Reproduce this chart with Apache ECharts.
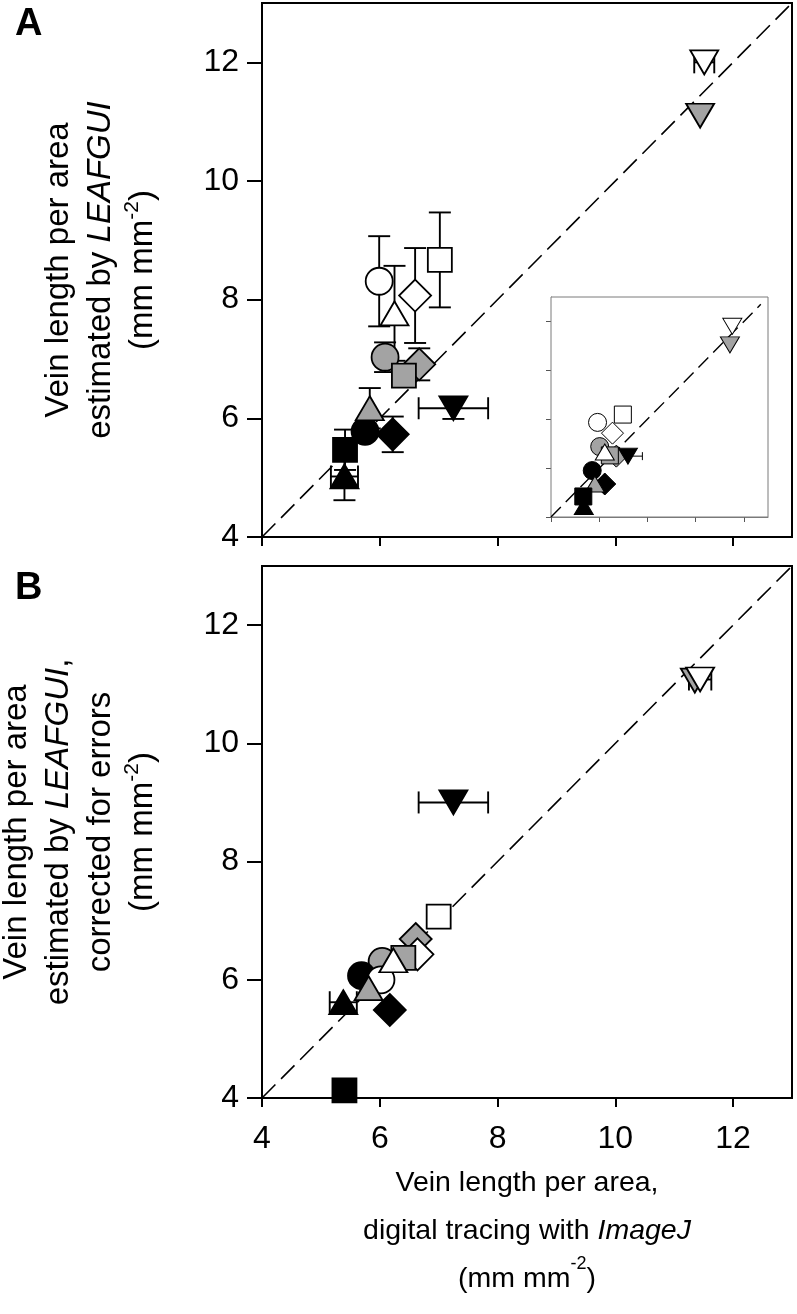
<!DOCTYPE html>
<html><head><meta charset="utf-8">
<script src="https://cdn.jsdelivr.net/npm/echarts@6/dist/echarts.min.js"></script>
<style>html,body{margin:0;padding:0;background:#fff}#c{width:797px;height:1314px}</style>
</head><body><div id="c"></div>
<script>
// ---- data ----
const groups = ['open circle','open triangle up','open diamond','open square','open triangle down',
  'grey circle','grey triangle up','grey diamond','grey square','grey triangle down',
  'black circle','black triangle up','black diamond','black square','black triangle down'];
const ticks = [4, 6, 8, 10, 12];
const identity = [[4, 4], [13, 13]];
const identityInset = [[4, 4], [12.7, 12.7]];

// Panel A: ImageJ (x) vs LEAFGUI (y)
const aX    = [5.99, 6.25, 6.60, 7.02, 11.51, 6.09, 5.83, 6.67, 6.41, 11.44, 5.75, 5.40, 6.22, 5.41, 7.25];
const aY    = [8.31, 7.77, 8.07, 8.67, 12.00, 7.03, 6.17, 6.91, 6.72, 11.10, 5.78, 5.02, 5.73, 5.47, 6.17];
const aXErr = [0, 0, 0, 0, 0.17, 0, 0, 0, 0, 0, 0, 0.23, 0, 0, 0.59];
const aYErr = [0.76, 0.80, 0.80, 0.80, 0, 0.25, 0.34, 0.27, 0.15, 0, 0, 0.40, 0.30, 0.34, 0.18];

// Panel A inset
const iX    = [5.93, 6.23, 6.55, 6.98, 11.52, 6.02, 5.82, 6.71, 6.44, 11.42, 5.71, 5.36, 6.23, 5.34, 7.19];
const iY    = [7.87, 6.66, 7.43, 8.19, 11.80, 6.88, 5.35, 6.49, 6.52, 11.04, 5.90, 4.43, 5.35, 4.84, 6.49];
const iXErr = [0, 0, 0, 0, 0, 0, 0, 0, 0, 0, 0, 0, 0, 0, 0.60];
const iYErr = [0, 0, 0, 0, 0, 0, 0, 0, 0, 0, 0, 0, 0, 0, 0];

// Panel B: ImageJ (x) vs LEAFGUI corrected (y)
const bX    = [6.02, 6.23, 6.64, 7.00, 11.44, 6.04, 5.81, 6.61, 6.40, 11.35, 5.69, 5.38, 6.17, 5.40, 7.25];
const bY    = [6.00, 6.33, 6.43, 7.07, 11.08, 6.31, 5.86, 6.69, 6.37, 11.06, 6.07, 5.62, 5.49, 4.13, 9.00];
const bXErr = [0, 0, 0, 0, 0.19, 0, 0, 0, 0, 0, 0, 0.23, 0, 0, 0.59];
const bYErr = [0, 0, 0, 0, 0, 0, 0, 0, 0, 0, 0, 0, 0, 0, 0];

// ---- styles ----
const GREY = '#a3a3a3';
const shapeOf = ['circle','triangle','diamond','rect','triangle','circle','triangle','diamond','rect','triangle','circle','triangle','diamond','rect','triangle'];
const fillOf  = ['#fff','#fff','#fff','#fff','#fff',GREY,GREY,GREY,GREY,GREY,'#000','#000','#000','#000','#000'];
const rotOf   = [0,0,0,0,180,0,0,0,0,180,0,0,0,0,180];
const sizeMain = {circle: 27, triangle: [28, 24], diamond: [32, 32], rect: 24};
const sizeInset = {circle: 18, triangle: [19, 16], diamond: [22, 22], rect: 17};
const orderA = [0, 2, 3, 1, 7, 5, 8, 10, 6, 12, 11, 13, 14, 9, 4];
const orderI = [3, 0, 2, 5, 7, 8, 1, 14, 10, 12, 6, 11, 13, 9, 4];
const orderB = [7, 2, 5, 8, 3, 10, 0, 1, 6, 11, 12, 13, 14, 9, 4];

const FONT = "'Liberation Sans', Arial, Helvetica, sans-serif";

function points(xs, ys, order, sizes, lw) {
  return order.map(i => ({
    name: groups[i],
    value: [xs[i], ys[i]],
    symbol: shapeOf[i],
    symbolSize: sizes[shapeOf[i]],
    symbolRotate: rotOf[i],
    itemStyle: {color: fillOf[i], borderColor: '#000', borderWidth: lw, opacity: 1}
  }));
}
function errData(xs, ys, xe, ye) {
  return xs.map((x, i) => [x, ys[i], xe[i], ye[i]]).filter(d => d[2] > 0 || d[3] > 0);
}
function errRender(cap, lw) {
  return function (params, api) {
    const x = api.value(0), y = api.value(1), xe = api.value(2), ye = api.value(3);
    const st = {stroke: '#000', lineWidth: lw};
    const ch = [];
    const L = (x1, y1, x2, y2) => ch.push({type: 'line', shape: {x1, y1, x2, y2}, style: st});
    if (ye > 0) {
      const p1 = api.coord([x, y + ye]), p2 = api.coord([x, y - ye]);
      L(p1[0], p1[1], p2[0], p2[1]);
      L(p1[0] - cap, p1[1], p1[0] + cap, p1[1]);
      L(p2[0] - cap, p2[1], p2[0] + cap, p2[1]);
    }
    if (xe > 0) {
      const p1 = api.coord([x - xe, y]), p2 = api.coord([x + xe, y]);
      L(p1[0], p1[1], p2[0], p2[1]);
      L(p1[0], p1[1] - cap, p1[0], p1[1] + cap);
      L(p2[0], p2[1] - cap, p2[0], p2[1] + cap);
    }
    return {type: 'group', children: ch};
  };
}

function richName(fs, lh) {
  return {
    n: {fontSize: fs, fontFamily: FONT, color: '#000', lineHeight: lh},
    i: {fontSize: fs, fontFamily: FONT, color: '#000', fontStyle: 'italic', lineHeight: lh},
    s: {fontSize: Math.round(fs * 0.64), fontFamily: FONT, color: '#000', verticalAlign: 'top', lineHeight: Math.round(lh * 0.55)}
  };
}

function mainX(grid, showLabels, name) {
  return {
    type: 'value', gridIndex: grid, min: 4, max: 13, interval: 2,
    axisLine: {show: true, onZero: false, lineStyle: {color: '#000', width: 2}},
    axisTick: {show: true, inside: false, length: 9, customValues: ticks, lineStyle: {color: '#000', width: 2}},
    axisLabel: {show: showLabels, customValues: ticks, margin: 25, fontSize: 32, fontFamily: FONT, color: '#000'},
    splitLine: {show: false},
    name: name || '', nameLocation: 'middle', nameGap: 61, nameMoveOverlap: false,
    nameTextStyle: {rich: richName(28.5, 48), fontSize: 28.5, fontFamily: FONT, color: '#000', lineHeight: 48}
  };
}
function mainY(grid, name) {
  return {
    type: 'value', gridIndex: grid, min: 4, max: 13, interval: 2,
    axisLine: {show: true, onZero: false, lineStyle: {color: '#000', width: 2}},
    axisTick: {show: true, inside: false, length: 15, customValues: ticks, lineStyle: {color: '#000', width: 2}},
    axisLabel: {show: true, customValues: ticks, margin: 23, fontSize: 32, fontFamily: FONT, color: '#000'},
    splitLine: {show: false},
    name: name, nameLocation: 'middle', nameRotate: 90, nameGap: 98, nameMoveOverlap: false,
    nameTextStyle: {rich: richName(33, 42), fontSize: 33, fontFamily: FONT, color: '#000', lineHeight: 42}
  };
}
function insetAxis(grid) {
  return {
    type: 'value', gridIndex: grid, min: 4, max: 13, interval: 2,
    axisLine: {show: true, onZero: false, lineStyle: {color: '#7a7a7a', width: 1}},
    axisTick: {show: true, inside: false, length: 5, customValues: ticks, lineStyle: {color: '#555', width: 1}},
    axisLabel: {show: false}, splitLine: {show: false}
  };
}

const option = {
  animation: false,
  backgroundColor: '#fff',
  title: [
    {text: 'A', left: 10, top: 1, textStyle: {fontSize: 38, fontWeight: 'bold', fontFamily: FONT, color: '#000'}},
    {text: 'B', left: 10, top: 565, textStyle: {fontSize: 38, fontWeight: 'bold', fontFamily: FONT, color: '#000'}}
  ],
  grid: [
    {left: 262, top: 3, width: 530, height: 534, show: true, borderColor: '#000', borderWidth: 2, outerBoundsMode: 'none'},
    {left: 262, top: 566, width: 530, height: 532, show: true, borderColor: '#000', borderWidth: 2, outerBoundsMode: 'none'},
    {left: 551, top: 297, width: 217, height: 220, show: true, borderColor: '#7a7a7a', borderWidth: 1, backgroundColor: '#fff', outerBoundsMode: 'none', z: 3}
  ],
  xAxis: [
    mainX(0, false),
    mainX(1, true, '{n|Vein length per area,}\n{n|digital tracing with }{i|ImageJ}\n{n|(mm mm}{s|-2}{n|)}'),
    insetAxis(2)
  ],
  yAxis: [
    mainY(0, '{n|Vein length per area}\n{n|estimated by }{i|LEAFGUI}\n{n|(mm mm}{s|-2}{n|)}'),
    mainY(1, '{n|Vein length per area}\n{n|estimated by }{i|LEAFGUI}{n|,}\n{n|corrected for errors}\n{n|(mm mm}{s|-2}{n|)}'),
    insetAxis(2)
  ],
  series: [
    {type: 'line', xAxisIndex: 0, yAxisIndex: 0, data: identity, symbol: 'none', silent: true,
      lineStyle: {color: '#000', width: 1.6, type: [19, 8]}, z: 1},
    {type: 'line', xAxisIndex: 1, yAxisIndex: 1, data: identity, symbol: 'none', silent: true,
      lineStyle: {color: '#000', width: 1.6, type: [19, 8]}, z: 1},
    {type: 'line', xAxisIndex: 2, yAxisIndex: 2, data: identityInset, symbol: 'none', silent: true,
      lineStyle: {color: '#000', width: 1.4, type: [14, 7]}, z: 4},
    {type: 'custom', xAxisIndex: 0, yAxisIndex: 0, data: errData(aX, aY, aXErr, aYErr),
      renderItem: errRender(11, 1.9), encode: {x: 0, y: 1}, z: 2, silent: true},
    {type: 'custom', xAxisIndex: 1, yAxisIndex: 1, data: errData(bX, bY, bXErr, bYErr),
      renderItem: errRender(11, 1.9), encode: {x: 0, y: 1}, z: 2, silent: true},
    {type: 'custom', xAxisIndex: 2, yAxisIndex: 2, data: errData(iX, iY, iXErr, iYErr),
      renderItem: errRender(4, 1), encode: {x: 0, y: 1}, z: 4, silent: true},
    {type: 'scatter', xAxisIndex: 0, yAxisIndex: 0, data: points(aX, aY, orderA, sizeMain, 1.8), z: 3, silent: true},
    {type: 'scatter', xAxisIndex: 1, yAxisIndex: 1, data: points(bX, bY, orderB, sizeMain, 1.8), z: 3, silent: true},
    {type: 'scatter', xAxisIndex: 2, yAxisIndex: 2, data: points(iX, iY, orderI, sizeInset, 1), z: 5, silent: true}
  ]
};
const chart = echarts.init(document.getElementById('c'), null, {renderer: 'canvas'});
chart.setOption(option);
</script>
</body></html>
